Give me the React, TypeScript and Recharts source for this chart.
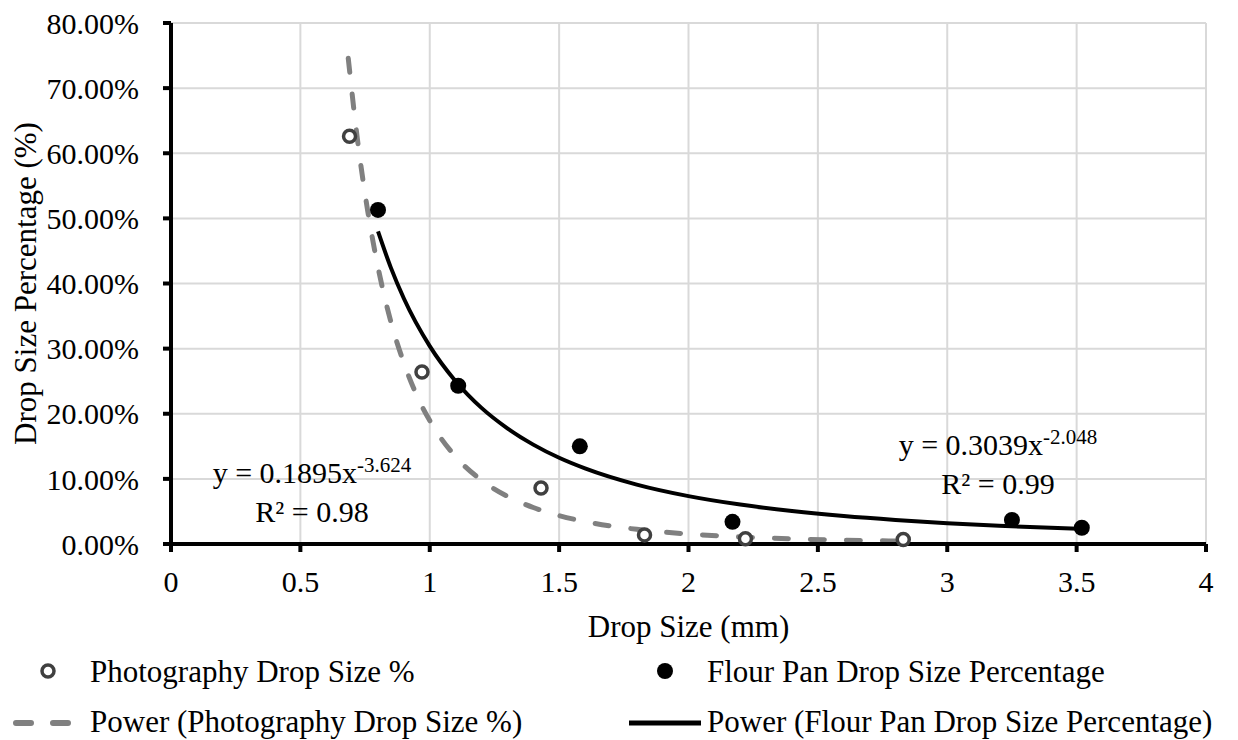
import React from "react";
import {
  ComposedChart,
  Scatter,
  Line,
  XAxis,
  YAxis,
  CartesianGrid,
  ReferenceDot,
} from "recharts";

// Measured points (x in mm, y in %)
const photoX = [0.69, 0.97, 1.43, 1.83, 2.22, 2.83];
const photoY = [62.6, 26.4, 8.6, 1.4, 0.8, 0.7];
const flourX = [0.8, 1.11, 1.58, 2.17, 3.25, 3.52];
const flourY = [51.3, 24.3, 15.0, 3.4, 3.7, 2.5];

// Trendline samples
const photoTrendX = [0.685, 0.72, 0.76, 0.8, 0.85, 0.9, 0.95, 1.0, 1.1, 1.2, 1.3, 1.4, 1.5, 1.6, 1.8, 2.0, 2.2, 2.4, 2.6, 2.83];
const photoTrendY = [74.6, 62.3, 51.2, 42.5, 34.1, 27.8, 22.8, 18.95, 13.4, 9.79, 7.32, 5.6, 4.36, 3.45, 2.25, 1.54, 1.09, 0.79, 0.59, 0.44];
const flourTrendX = [0.8, 0.85, 0.9, 1.0, 1.1, 1.2, 1.3, 1.4, 1.5, 1.6, 1.8, 2.0, 2.2, 2.4, 2.6, 2.8, 3.0, 3.2, 3.4, 3.52];
const flourTrendY = [48.0, 42.4, 37.7, 30.39, 25.0, 20.9, 17.76, 15.26, 13.24, 11.61, 9.12, 7.35, 6.05, 5.06, 4.29, 3.69, 3.2, 2.81, 2.48, 2.31];

const xTicks = [0, 0.5, 1, 1.5, 2, 2.5, 3, 3.5, 4];
const yTicks = [0, 10, 20, 30, 40, 50, 60, 70, 80];

const photoData = photoX.map((x, i) => ({ x, y: photoY[i] }));
const flourData = flourX.map((x, i) => ({ x, y: flourY[i] }));
const photoTrend = photoTrendX.map((x, i) => ({ x, y: photoTrendY[i] }));
const flourTrend = flourTrendX.map((x, i) => ({ x, y: flourTrendY[i] }));

const FONT = "'Liberation Serif', 'Times New Roman', serif";
const FS = 30;

const OpenCircle = (props: any) => (
  <circle cx={props.cx} cy={props.cy} r={6} fill="#fff" stroke="#404040" strokeWidth={3.5} />
);
const FilledCircle = (props: any) => (
  <circle cx={props.cx} cy={props.cy} r={8} fill="#000" />
);

const EqLabel = (eq: string, sup: string, r2: string) => (props: any) => {
  const { cx, cy } = props;
  return (
    <g>
      <text x={cx} y={cy} textAnchor="middle" fontFamily={FONT} fontSize={FS} fill="#000">
        {eq}
        <tspan fontSize={21} dy={-11}>{sup}</tspan>
      </text>
      <text x={cx} y={cy + 39} textAnchor="middle" fontFamily={FONT} fontSize={FS} fill="#000">
        {r2}
      </text>
    </g>
  );
};

const XLabel = (props: any) => {
  const vb = props.viewBox || {};
  return (
    <text x={vb.x + vb.width / 2} y={vb.y + 93} textAnchor="middle" fontFamily={FONT} fontSize={31} fill="#000">
      Drop Size (mm)
    </text>
  );
};

const YLabel = (props: any) => {
  const vb = props.viewBox || {};
  const cy = vb.y + vb.height / 2;
  const x = 36;
  return (
    <text x={x} y={cy} transform={`rotate(-90, ${x}, ${cy})`} textAnchor="middle" fontFamily={FONT} fontSize={31} fill="#000">
      Drop Size Percentage (%)
    </text>
  );
};

export default function App() {
  return (
    <div style={{ position: "absolute", left: 0, top: 0, width: 1238, height: 740, background: "#fff" }}>
      <ComposedChart
        width={1238}
        height={740}
        margin={{ top: 23, right: 32, bottom: 0, left: 0 }}
      >
        <CartesianGrid stroke="#d9d9d9" strokeWidth={2} horizontal vertical />
        <XAxis
          type="number"
          dataKey="x"
          domain={[0, 4]}
          ticks={xTicks}
          interval={0}
          height={196}
          tickLine={{ stroke: "#000", strokeWidth: 4 }}
          tickSize={8}
          tickMargin={19}
          axisLine={{ stroke: "#000", strokeWidth: 4 }}
          tick={{ fontFamily: FONT, fontSize: FS, fill: "#000" }}
          tickFormatter={(v: number) => String(v)}
          label={<XLabel />}
        />
        <YAxis
          type="number"
          dataKey="y"
          domain={[0, 80]}
          ticks={yTicks}
          interval={0}
          width={171}
          tickLine={{ stroke: "#000", strokeWidth: 4 }}
          tickSize={8}
          tickMargin={24}
          axisLine={{ stroke: "#000", strokeWidth: 4 }}
          tick={{ fontFamily: FONT, fontSize: FS, fill: "#000" }}
          tickFormatter={(v: number) => v.toFixed(2) + "%"}
          label={<YLabel />}
        />
        {/* top & right border */}
        <XAxis xAxisId="top" orientation="top" type="number" domain={[0, 4]} tick={false} tickLine={false} height={0} axisLine={{ stroke: "#000", strokeWidth: 4 }} />
        <YAxis yAxisId="right" orientation="right" type="number" domain={[0, 80]} tick={false} tickLine={false} width={0} axisLine={{ stroke: "#000", strokeWidth: 4 }} />

        <Line
          data={photoTrend}
          dataKey="y"
          type="monotone"
          stroke="#808080"
          strokeWidth={5}
          strokeDasharray="14 22"
          strokeLinecap="round"
          dot={false}
          activeDot={false}
          isAnimationActive={false}
        />
        <Line
          data={flourTrend}
          dataKey="y"
          type="monotone"
          stroke="#000"
          strokeWidth={4}
          dot={false}
          activeDot={false}
          isAnimationActive={false}
        />
        <Scatter data={photoData} dataKey="y" shape={OpenCircle} isAnimationActive={false} />
        <Scatter data={flourData} dataKey="y" shape={FilledCircle} isAnimationActive={false} />

        <ReferenceDot
          x={0.545}
          y={9.37}
          r={0}
          stroke="none"
          fill="none"
          shape={EqLabel("y = 0.1895x", "-3.624", "R² = 0.98")}
        />
        <ReferenceDot
          x={3.196}
          y={13.67}
          r={0}
          stroke="none"
          fill="none"
          shape={EqLabel("y = 0.3039x", "-2.048", "R² = 0.99")}
        />
      </ComposedChart>

      {/* Legend */}
      <svg width={1238} height={140} style={{ position: "absolute", left: 0, top: 600 }}>
        <circle cx={48} cy={71} r={6} fill="#fff" stroke="#404040" strokeWidth={3.5} />
        <text x={90} y={82} fontFamily={FONT} fontSize={31} fill="#000">Photography Drop Size %</text>
        <circle cx={665} cy={71} r={8} fill="#000" />
        <text x={707} y={82} fontFamily={FONT} fontSize={31} fill="#000">Flour Pan Drop Size Percentage</text>
        <line x1={16} y1={123} x2={68} y2={123} stroke="#808080" strokeWidth={6} strokeDasharray="15 22" strokeLinecap="round" />
        <text x={90} y={132} fontFamily={FONT} fontSize={31} fill="#000">Power (Photography Drop Size %)</text>
        <line x1={629} y1={123} x2={701} y2={123} stroke="#000" strokeWidth={5} />
        <text x={707} y={132} fontFamily={FONT} fontSize={31} fill="#000">Power (Flour Pan Drop Size Percentage)</text>
      </svg>
    </div>
  );
}
